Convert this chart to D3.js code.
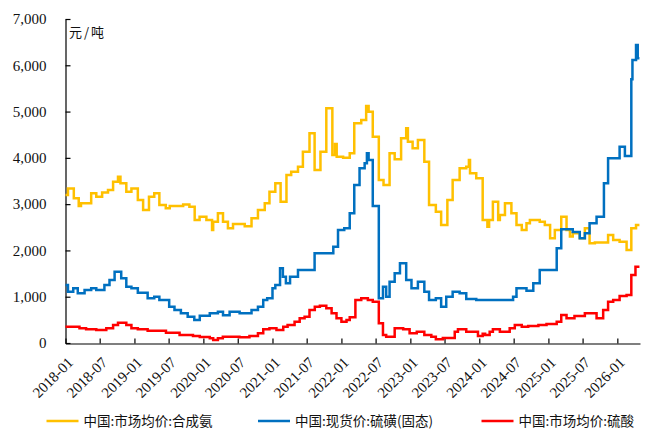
<!DOCTYPE html>
<html><head><meta charset="utf-8">
<script src="https://cdn.jsdelivr.net/npm/d3@7"></script>
<style>body{margin:0;background:#fff}svg{display:block}</style>
</head><body><svg id="c" width="653" height="430"></svg>
<script>
const seriesNames = ["中国:市场均价:合成氨", "中国:现货价:硫磺(固态)", "中国:市场均价:硫酸"];
const yTicks = [0,1000,2000,3000,4000,5000,6000,7000];
const xTickLabels = ["2018-01","2018-07","2019-01","2019-07","2020-01","2020-07","2021-01","2021-07","2022-01","2022-07","2023-01","2023-07","2024-01","2024-07","2025-01","2025-07","2026-01"];
const unitLabel = "元/吨";

const ammoniaDates = ["2018-01-01","2018-01-14","2018-02-14","2018-03-12","2018-03-24","2018-05-17","2018-06-13","2018-07-14","2018-08-14","2018-09-10","2018-10-06","2018-10-19","2018-11-19","2018-12-16","2019-01-19","2019-02-16","2019-03-19","2019-04-16","2019-05-13","2019-06-16","2019-07-07","2019-09-16","2019-10-19","2019-11-16","2019-12-12","2020-01-17","2020-02-16","2020-02-22","2020-03-18","2020-04-14","2020-05-10","2020-06-06","2020-08-07","2020-09-12","2020-10-16","2020-11-21","2020-12-16","2021-01-16","2021-02-13","2021-03-16","2021-04-10","2021-05-16","2021-06-11","2021-07-16","2021-08-12","2021-09-12","2021-10-13","2021-11-14","2021-11-28","2021-12-07","2022-01-10","2022-02-14","2022-03-10","2022-04-16","2022-05-12","2022-05-25","2022-06-16","2022-07-18","2022-08-12","2022-09-13","2022-10-10","2022-11-13","2022-12-10","2022-12-19","2023-01-13","2023-02-10","2023-03-16","2023-04-10","2023-05-16","2023-06-13","2023-07-16","2023-08-13","2023-09-19","2023-10-24","2023-11-07","2023-11-13","2023-12-16","2024-01-19","2024-02-13","2024-02-22","2024-03-13","2024-04-10","2024-04-19","2024-05-16","2024-06-19","2024-07-16","2024-08-13","2024-09-07","2024-09-25","2024-11-16","2024-12-13","2025-01-10","2025-02-04","2025-03-10","2025-04-07","2025-04-25","2025-05-10","2025-06-16","2025-07-13","2025-08-07","2025-09-04","2025-11-13","2025-12-10","2026-01-13","2026-02-19","2026-03-16","2026-04-10","2026-04-28"];
const ammoniaValues = [3200,3340,3125,2960,3017,3233,3160,3250,3305,3485,3590,3450,3268,3340,3089,2873,3160,3233,2981,2910,2960,2990,2945,2657,2729,2657,2441,2620,2802,2620,2478,2570,2520,2693,2873,3017,3268,3450,3052,3629,3700,3808,4132,4530,3737,4132,5070,4060,4300,4024,4000,4097,4745,4817,5119,4996,4456,3521,3413,4097,3968,4421,4637,4348,4205,4385,3916,2981,2836,2549,3089,3521,3773,3808,3953,3665,3557,2657,2512,2657,3052,2657,2765,3017,2801,2549,2441,2585,2657,2620,2549,2261,2441,2729,2441,2300,2369,2261,2477,2153,2170,2333,2225,2189,2009,2477,2549,2549];

const sulfurDates = ["2018-01-01","2018-01-14","2018-02-11","2018-03-07","2018-04-12","2018-05-17","2018-06-13","2018-07-26","2018-08-22","2018-09-18","2018-10-23","2018-11-19","2018-12-16","2019-01-19","2019-03-12","2019-04-16","2019-05-13","2019-07-04","2019-08-01","2019-09-04","2019-10-10","2019-11-14","2019-12-13","2020-02-04","2020-03-18","2020-04-14","2020-05-19","2020-07-11","2020-09-12","2020-10-16","2020-11-13","2020-12-04","2021-01-01","2021-01-16","2021-02-10","2021-02-25","2021-03-13","2021-04-04","2021-05-16","2021-08-12","2021-11-19","2021-12-14","2022-01-16","2022-02-14","2022-03-10","2022-04-07","2022-05-04","2022-05-16","2022-05-25","2022-06-16","2022-07-18","2022-08-09","2022-08-26","2022-09-13","2022-10-10","2022-11-07","2022-12-10","2023-01-07","2023-02-10","2023-03-16","2023-04-10","2023-05-16","2023-06-13","2023-07-10","2023-08-13","2023-09-19","2023-10-24","2023-12-16","2024-06-28","2024-07-16","2024-09-07","2024-10-13","2024-11-16","2025-02-14","2025-03-10","2025-05-10","2025-06-16","2025-07-13","2025-08-07","2025-09-13","2025-10-22","2025-11-13","2026-01-13","2026-02-10","2026-03-16","2026-03-22","2026-04-10","2026-04-19","2026-04-28"];
const sulfurValues = [1253,1108,1181,1073,1145,1181,1145,1253,1361,1540,1397,1216,1181,1087,966,1000,929,784,713,641,569,497,590,641,677,600,677,641,713,784,929,966,1181,1253,1613,1432,1289,1432,1577,1938,2081,2441,2477,2801,3413,3773,3881,4097,3953,2959,966,1216,1000,1325,1505,1721,1361,1181,1325,1108,929,966,784,1000,1108,1073,950,930,1000,1181,1130,1289,1577,2045,2456,2400,2261,2369,2585,2729,3450,3989,4241,4040,5700,6113,6437,6150,6150];

const acidDates = ["2018-01-01","2018-03-16","2018-04-20","2018-06-13","2018-08-05","2018-09-10","2018-10-06","2018-11-19","2018-12-16","2019-01-19","2019-03-12","2019-06-17","2019-08-28","2019-11-07","2019-12-13","2020-02-04","2020-02-22","2020-03-18","2020-04-13","2020-07-10","2020-09-01","2020-10-16","2020-11-13","2020-12-16","2021-01-22","2021-02-27","2021-03-22","2021-04-28","2021-05-25","2021-06-20","2021-07-16","2021-08-13","2021-09-09","2021-10-13","2021-11-10","2021-12-06","2022-01-01","2022-01-28","2022-02-14","2022-03-16","2022-04-16","2022-05-21","2022-06-16","2022-07-18","2022-08-09","2022-08-26","2022-10-10","2022-11-24","2022-12-28","2023-02-04","2023-03-16","2023-04-22","2023-05-16","2023-06-22","2023-08-24","2023-09-10","2023-10-24","2023-12-25","2024-01-19","2024-02-01","2024-02-25","2024-03-13","2024-04-19","2024-06-10","2024-07-07","2024-08-13","2024-09-16","2024-11-09","2024-12-22","2025-02-14","2025-03-10","2025-04-07","2025-05-19","2025-07-13","2025-09-13","2025-10-18","2025-11-13","2025-12-10","2026-01-13","2026-02-19","2026-03-16","2026-04-07","2026-04-28"];
const acidValues = [353,317,296,281,317,389,439,389,317,296,266,223,173,151,130,101,65,101,137,123,151,209,296,317,281,353,389,461,533,569,713,784,806,749,641,533,461,497,555,929,966,929,893,425,173,137,317,296,209,245,173,137,79,108,245,296,245,151,200,173,245,296,245,317,389,353,367,389,410,461,605,533,583,641,533,713,893,929,1015,1037,1469,1648,1648];

const colors = ["#FFC000", "#0070C0", "#FF0000"];

const svg = d3.select("#c");
const parse = d3.timeParse("%Y-%m-%d");
const x = d3.scaleTime().domain([parse("2018-01-01"), parse("2026-05-01")]).range([65.5, 640]);
const y = d3.scaleLinear().domain([0, 7000]).range([343, 19]);

const serif = "'Liberation Serif','Times New Roman',serif";
const cjk = "'Noto Sans CJK SC','Noto Sans',sans-serif";

// axes
const yAxis = d3.axisLeft(y).tickValues(yTicks).tickSizeInner(-5).tickSizeOuter(0).tickPadding(19).tickFormat(d3.format(","));
const gy = svg.append("g").attr("transform", "translate(65.5,0)").call(yAxis);
gy.selectAll("text").attr("font-family", serif).attr("font-size", 15).attr("fill", "#111");

const xTickDates = xTickLabels.map(s => parse(s + "-01"));
const xAxis = d3.axisBottom(x).tickValues(xTickDates).tickSizeInner(-5).tickSizeOuter(0).tickFormat(d3.timeFormat("%Y-%m"));
const gx = svg.append("g").attr("transform", "translate(0,343.5)").call(xAxis);
gx.selectAll("text").attr("font-family", serif).attr("font-size", 15).attr("fill", "#111")
  .attr("x", 0).attr("y", 0).attr("dy", 0)
  .attr("text-anchor", "end").attr("transform", "translate(8,20) rotate(-45)");
svg.selectAll(".domain, .tick line").attr("stroke", "#000").attr("stroke-width", 1.2);

// unit label
svg.append("text").attr("x", 69).attr("y", 37).attr("font-family", cjk).attr("font-size", 13)
  .attr("letter-spacing", 2).attr("fill", "#111").text(unitLabel);

// lines
const line = d3.line().x(d => x(d[0])).y(d => y(d[1])).curve(d3.curveStepAfter);
const series = [[ammoniaDates, ammoniaValues],[sulfurDates, sulfurValues],[acidDates, acidValues]];
series.forEach(([ds, vs], i) => {
  const data = ds.map((d, j) => [parse(d), vs[j]]);
  svg.append("path").datum(data).attr("d", line).attr("fill", "none")
    .attr("stroke", colors[i]).attr("stroke-width", 2.5).attr("stroke-linejoin", "miter");
});

// legend
const legendX = [46.5, 258, 481.5];
seriesNames.forEach((name, i) => {
  const g = svg.append("g").attr("transform", `translate(${legendX[i]},421)`);
  g.append("line").attr("x1", 0).attr("x2", 32).attr("y1", 0).attr("y2", 0).attr("stroke", colors[i]).attr("stroke-width", 2.5);
  g.append("text").attr("x", 37).attr("y", 5).attr("font-family", cjk).attr("font-size", 13.5).attr("fill", "#111").text(name);
});
</script></body></html>
